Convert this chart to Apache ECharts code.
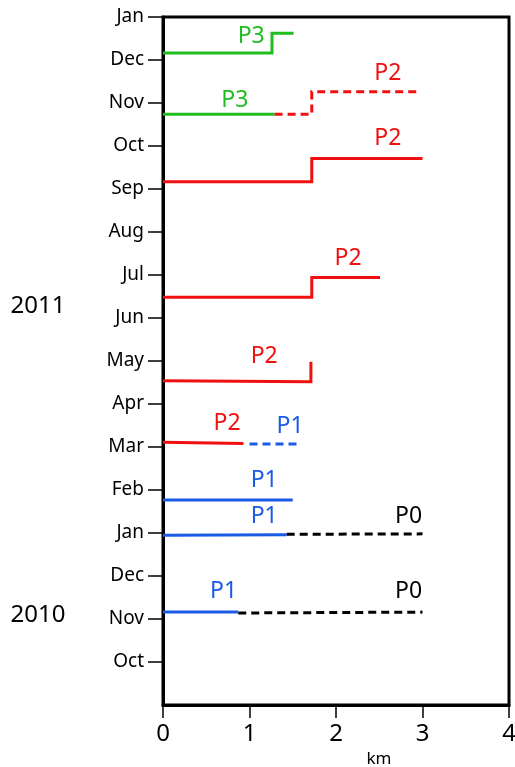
<!DOCTYPE html>
<html>
<head>
<meta charset="utf-8">
<script src="https://cdn.jsdelivr.net/npm/echarts@6/dist/echarts.min.js"></script>
<style>html,body{margin:0;padding:0;background:#fff}#c{width:515px;height:767px}</style>
</head>
<body>
<div id="c"></div>
<script>
// y values: months counted from Oct 2010 (= 0)
const monthLabels = ['Oct','Nov','Dec','Jan','Feb','Mar','Apr','May','Jun','Jul','Aug','Sep','Oct','Nov','Dec','Jan'];
const monthTicks = [0,1,2,3,4,5,6,7,8,9,10,11,12,13,14,15];
const xTicks = [0,1,2,3,4];

// traces: [km, month]
const p3Dec = [[0,14.16],[1.26,14.16],[1.26,14.62],[1.51,14.62]];
const p3Nov = [[0,12.74],[1.29,12.74]];
const p2NovDash = [[1.29,12.74],[1.72,12.74],[1.72,13.26],[2.95,13.26]];
const p2Sep = [[0,11.17],[1.72,11.17],[1.72,11.71],[3.0,11.71]];
const p2Jul = [[0,8.48],[1.72,8.48],[1.72,8.94],[2.51,8.94]];
const p2May = [[0,6.54],[1.71,6.52],[1.71,6.98]];
const p2Mar = [[0,5.11],[0.93,5.08]];
const p1MarDash = [[1.0,5.07],[1.58,5.07]];
const p1Feb = [[0,3.77],[1.5,3.77]];
const p1Jan = [[0,2.95],[1.43,2.96]];
const p0JanDash = [[1.43,2.97],[3.0,2.98]];
const p1Nov = [[0,1.16],[0.87,1.16]];
const p0NovDash = [[0.87,1.14],[3.0,1.16]];

// text labels
const labelNames = ['P3','P3','P2','P2','P2','P2','P2','P1','P1','P1','P0','P1','P0'];
const labelX =     [1.02, 0.83, 2.6, 2.6, 2.14, 1.17, 0.74, 1.47, 1.17, 1.17, 2.84, 0.70, 2.84];
const labelY =     [14.54,13.07,13.69,12.18,9.39, 7.10, 5.55, 5.47, 4.22, 3.38, 3.38, 1.63, 1.63];
const labelKind =  ['g','g','r','r','r','r','r','b','b','b','k','b','k'];

const colors = {g:'#1fbe1f', r:'#f01010', b:'#1a5be6', k:'#000000'};

function lineSeries(data, kind, dashed){
  return {
    type:'line', data:data, symbol:'none', silent:true, animation:false,
    lineStyle:{color:colors[kind], width:3, type: dashed ? [8,5] : 'solid', cap:'butt', join:'miter'},
    z:3
  };
}

const chart = echarts.init(document.getElementById('c'));
const font = '"Noto Sans", "DejaVu Sans", sans-serif';
chart.setOption({
  animation:false,
  grid:{left:163, right:6, top:17, bottom:62, show:true, borderColor:'#000', borderWidth:3, backgroundColor:'transparent', outerBoundsMode:'none', containLabel:false},
  xAxis:{
    type:'value', min:0, max:4, interval:1,
    axisLine:{show:true, onZero:false, lineStyle:{color:'#000', width:3}},
    axisTick:{show:true, inside:false, length:13, lineStyle:{color:'#000', width:1.5}},
    axisLabel:{fontSize:24, color:'#000', margin:17, fontFamily:font, customValues:xTicks},
    splitLine:{show:false}
  },
  yAxis:{
    type:'value', min:-1, max:15, interval:1,
    axisLine:{show:true, onZero:false, lineStyle:{color:'#000', width:3}},
    axisTick:{show:true, inside:false, length:15, lineStyle:{color:'#000', width:1.5}, customValues:monthTicks},
    axisLabel:{fontSize:19, color:'#000', margin:19, fontFamily:font, customValues:monthTicks,
      formatter:function(v){ const i = Math.round(v); return (i>=0 && i<monthLabels.length) ? monthLabels[i] : ''; }},
    splitLine:{show:false}
  },
  graphic:[
    {type:'text', x:38, y:306, style:{text:'2011', font:'24px '+font, fill:'#000', textAlign:'center', textVerticalAlign:'middle'}},
    {type:'text', x:38, y:615, style:{text:'2010', font:'24px '+font, fill:'#000', textAlign:'center', textVerticalAlign:'middle'}},
    {type:'text', x:379, y:759, style:{text:'km', font:'17px '+font, fill:'#000', textAlign:'center', textVerticalAlign:'middle'}}
  ],
  series:[
    lineSeries(p3Dec,'g',false),
    lineSeries(p3Nov,'g',false),
    lineSeries(p2NovDash,'r',true),
    lineSeries(p2Sep,'r',false),
    lineSeries(p2Jul,'r',false),
    lineSeries(p2May,'r',false),
    lineSeries(p2Mar,'r',false),
    lineSeries(p1MarDash,'b',true),
    lineSeries(p1Feb,'b',false),
    lineSeries(p1Jan,'b',false),
    lineSeries(p0JanDash,'k',true),
    lineSeries(p1Nov,'b',false),
    lineSeries(p0NovDash,'k',true),
    {
      type:'scatter', symbolSize:0, silent:true, z:5,
      itemStyle:{opacity:1},
      data: labelNames.map(function(n,i){
        return {name:n, value:[labelX[i], labelY[i]],
          label:{show:true, position:'inside', formatter:n, color:colors[labelKind[i]], opacity:1, textBorderWidth:0, fontSize:23, fontFamily:font}};
      })
    }
  ]
});
</script>
</body>
</html>
